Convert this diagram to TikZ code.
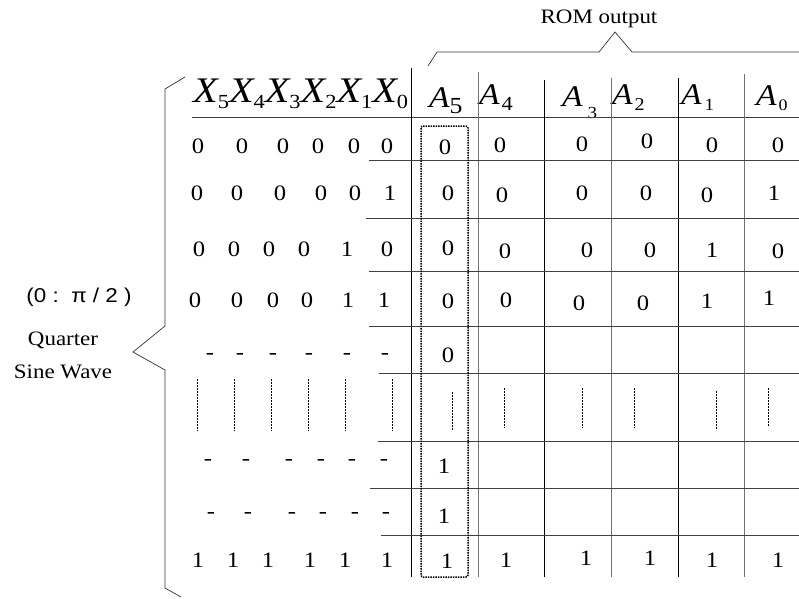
\documentclass[tikz,border=0pt]{standalone}
\usepackage{fontspec}
\setmainfont{Liberation Serif}[FakeStretch=1.12]
\newfontfamily\sansf{Liberation Sans}[FakeStretch=1.12]
\newcommand\Xh[1]{{\itshape X}\raisebox{-6pt}{\fontsize{20}{20}\selectfont #1}}
\begin{document}
\begin{tikzpicture}[x=1pt,y=-1pt,
  cell/.style={anchor=base, inner sep=0pt, font=\fontsize{22}{22}\selectfont},
  lbl/.style={inner sep=0pt, font=\fontsize{20.5}{20.5}\selectfont},
  hdr/.style={anchor=base west, inner sep=0pt, font=\fontsize{30}{30}\selectfont\itshape},
  gridh/.style={draw=black!75, line width=0.8pt},
  gridv/.style={draw=black, line width=0.8pt},
  gridvg/.style={draw=black!55, line width=0.9pt},
  vdash/.style={draw=black, line width=0.6pt, dash pattern=on 2pt off 1pt},
  brace/.style={draw=black!80, line width=0.7pt}]
\useasboundingbox (0,0) rectangle (799,598);

% ---- titles and left labels
\node[lbl] (rom) at (599,19) {ROM output};
\node[inner sep=0pt, font=\sansf\fontsize{20}{20}\selectfont] (range) at (79,297) {(0 :\ \ π / 2 )};
\node[lbl, anchor=base] (quarter) at (63,345) {Quarter};
\node[lbl, anchor=base] (sine) at (63,378) {Sine Wave};

% ---- braces
\draw[brace] (428,66) -- (437,52) -- (599,52) -- (615,32) -- (632,52) -- (799,52);
\draw[brace] (185,77) -- (165,89) -- (165,326) -- (133,352) -- (165,370) -- (165,588) -- (181,597);

% ---- header
\node[anchor=base west, inner sep=0pt, font=\fontsize{36}{36}\selectfont] (xhead) at (193,102)
  {\Xh{5}\Xh{4}\Xh{3}\Xh{2}\Xh{1}\Xh{0}};
\node[hdr] (a5) at (429,107) {A\raisebox{-6pt}{\upshape\fontsize{23}{23}\selectfont 5}};
\node[hdr] (a4) at (479,104) {A\hspace{2pt}\raisebox{-6pt}{\upshape\fontsize{20}{20}\selectfont 4}};
\node[hdr] (a3) at (562,106) {A\hspace{5pt}\raisebox{-12pt}{\upshape\fontsize{17}{17}\selectfont 3}};
\node[hdr] (a2) at (612,104) {A\hspace{2pt}\raisebox{-6pt}{\upshape\fontsize{18}{18}\selectfont 2}};
\node[hdr] (a1) at (681,104) {A\hspace{3pt}\raisebox{-6pt}{\upshape\fontsize{17}{17}\selectfont 1}};
\node[hdr] (a0) at (756,105) {A\hspace{2pt}\raisebox{-5pt}{\upshape\fontsize{16}{16}\selectfont 0}};

% ---- grid
\draw[gridh] (192,117) -- (799,117);
\draw[gridv] (411,68) -- (411,577);
\draw[gridvg] (478,72) -- (478,577);
\draw[gridv] (544,80) -- (544,577);
\draw[gridvg] (611,78) -- (611,577);
\draw[gridv] (678,78) -- (678,577);
\draw[gridvg] (744,74) -- (744,577);
\foreach \xs/\y in {369/160,366/218,369/271,369/326,379/373,378/441,370/488,381/535}
  \draw[gridh] (\xs,\y) -- (799,\y);

% ---- highlighted A5 column
\draw[line width=1.5pt, densely dotted, rounded corners=2pt] (421,126) rectangle (468,577);

% ---- address bits X5..X0
\foreach \x/\t [count=\i] in {198/0,242/0,283/0,318/0,354/0,387/0}
  \node[cell] (xa\i) at (\x,153) {\t};
\foreach \x/\t [count=\i] in {197/0,237/0,280/0,321/0,355/0,390/1}
  \node[cell] (xb\i) at (\x,200) {\t};
\foreach \x/\t [count=\i] in {199/0,234/0,269/0,304/0,347/1,387/0}
  \node[cell] (xc\i) at (\x,256) {\t};
\foreach \x/\t [count=\i] in {195/0,237/0,273/0,307/0,348/1,384/1}
  \node[cell] (xd\i) at (\x,307) {\t};
\foreach \x [count=\i] in {210,240,273,309,347,385}
  \node[cell] (xe\i) at (\x,359) {-};
\foreach \x [count=\i] in {197,234,271,308,345,392}
  \draw[vdash] (\x,379) -- (\x,431);
\foreach \x [count=\i] in {208,246,289,321,352,384}
  \node[cell] (xg\i) at (\x,465) {-};
\foreach \x [count=\i] in {211,248,292,323,355,386}
  \node[cell] (xh\i) at (\x,518) {-};
\foreach \x [count=\i] in {198,233,268,310,345,387}
  \node[cell] (xi\i) at (\x,567) {1};

% ---- ROM output bits A5..A0
\foreach \x/\t/\y [count=\i] in {445/0/154,500/0/152,582/0/151,647/0/148,712/0/152,778/0/152}
  \node[cell] (ya\i) at (\x,\y) {\t};
\foreach \x/\t/\y [count=\i] in {448/0/200,502/0/202,582/0/200,646/0/200,707/0/202,774/1/200}
  \node[cell] (yb\i) at (\x,\y) {\t};
\foreach \x/\t/\y [count=\i] in {448/0/255,505/0/258,587/0/257,650/0/257,712/1/257,778/0/258}
  \node[cell] (yc\i) at (\x,\y) {\t};
\foreach \x/\t/\y [count=\i] in {448/0/308,506/0/307,579/0/310,643/0/310,707/1/308,769/1/305}
  \node[cell] (yd\i) at (\x,\y) {\t};
\node[cell] (ye1) at (448,362) {0};
\foreach \x/\a/\b in {452/392/431,504/388/428,582/388/428,634/388/428,716/391/430,768/388/427}
  \draw[vdash] (\x,\a) -- (\x,\b);
\node[cell] (yg1) at (444,473) {1};
\node[cell] (yh1) at (444,523) {1};
\foreach \x/\t/\y [count=\i] in {447/1/568,506/1/567,586/1/565,650/1/565,712/1/567,778/1/567}
  \node[cell] (yi\i) at (\x,\y) {\t};
\end{tikzpicture}
\end{document}
